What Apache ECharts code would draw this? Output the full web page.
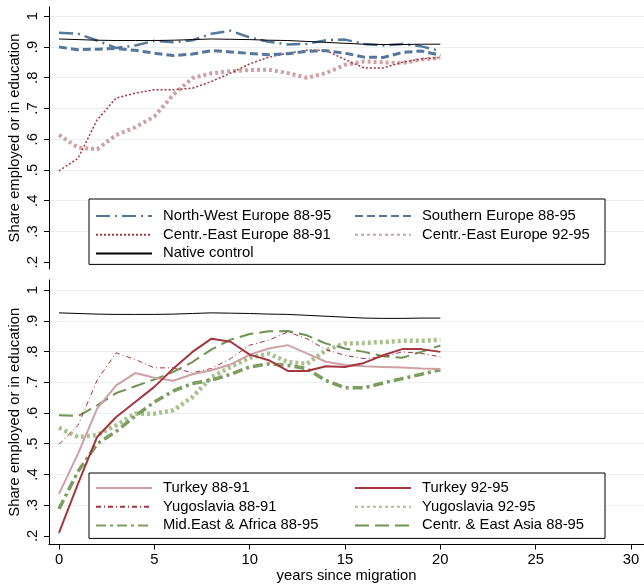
<!DOCTYPE html>
<html>
<head>
<meta charset="utf-8">
<script src="https://cdn.jsdelivr.net/npm/echarts@6/dist/echarts.min.js"></script>
<style>
html,body{margin:0;padding:0;background:#fff;}
#chart{width:644px;height:584px;}
</style>
</head>
<body>
<div id="chart"></div>
<script>
// ---------- data ----------
const years = [0,1,2,3,4,5,6,7,8,9,10,11,12,13,14,15,16,17,18,19,20];

// top panel
const nwEurope   = [.946,.943,.921,.897,.905,.920,.915,.922,.943,.953,.931,.917,.908,.910,.922,.924,.910,.905,.910,.902,.887];
const southEurope= [.900,.891,.893,.895,.889,.880,.872,.877,.888,.884,.879,.875,.878,.886,.888,.880,.867,.866,.882,.887,.873];
const ceEurope8891=[.497,.538,.663,.734,.750,.761,.761,.766,.788,.815,.845,.867,.880,.889,.889,.859,.832,.832,.850,.861,.866];
const ceEurope9295=[.614,.573,.567,.614,.639,.674,.745,.799,.815,.821,.825,.826,.815,.800,.815,.842,.853,.850,.848,.859,.864];
const nativeControl=[.926,.924,.922,.921,.921,.921,.922,.924,.926,.925,.924,.922,.921,.918,.915,.912,.909,.908,.908,.909,.909];

// bottom panel
const turkey8891 = [.337,.468,.614,.690,.730,.715,.705,.726,.739,.758,.790,.810,.821,.794,.767,.756,.752,.750,.748,.745,.743];
const turkey9295 = [.210,.370,.522,.587,.636,.685,.745,.799,.842,.832,.790,.772,.737,.737,.752,.750,.763,.788,.808,.808,.799];
const yugo8891   = [.498,.560,.707,.796,.774,.747,.747,.731,.745,.777,.821,.837,.864,.842,.806,.788,.777,.783,.799,.794,.783];
const yugo9295   = [.552,.522,.528,.560,.598,.598,.609,.652,.717,.750,.780,.793,.766,.760,.804,.826,.828,.831,.835,.835,.838];
const midEastAfrica=[.288,.410,.500,.540,.590,.636,.672,.696,.707,.726,.750,.760,.755,.744,.706,.682,.682,.698,.712,.726,.741];
const ceEastAsia = [.593,.590,.625,.665,.687,.709,.734,.766,.807,.839,.857,.866,.867,.853,.826,.810,.799,.785,.780,.799,.820];

// ticks
const xTicks = [0,5,10,15,20,25,30];
const yTicks = [0.2,0.3,0.4,0.5,0.6,0.7,0.8,0.9,1];
const yGridVals = [0.3,0.4,0.5,0.6,0.7,0.8,0.9,1];

// ---------- chart ----------
const FONT = 'Liberation Sans, Arial, sans-serif';
const FS = 14.8;
const blue = '#55779b', darkRed = '#a3363e', pink = '#cfa0a4', lightGreen = '#a9c18e', green = '#7c9c60', green2 = '#6f9452';

const pairs = arr => years.map((x,i)=>[x, arr[i]]);
function mk(name, arr, gi, color, width, type){
  return {
    name, type:'line', data: pairs(arr),
    xAxisIndex: gi, yAxisIndex: gi*2,
    symbol:'none', showSymbol:false, animation:false,
    lineStyle:{color, width, type, cap:'butt'},
    itemStyle:{color},
    emphasis:{disabled:true}
  };
}

const yFmt = v => (Math.abs(v-1)<1e-9 ? '1' : v.toFixed(1).replace(/^0/,''));

function mainY(gi, min, max){
  return {
    type:'value', gridIndex: gi, min, max, position:'left',
    axisLine:{show:true, onZero:false, lineStyle:{color:'#000', width:1}},
    axisTick:{show:true, length:5, customValues:yTicks, lineStyle:{color:'#000', width:1}},
    axisLabel:{show:true, customValues:yTicks, rotate:90, margin:9, formatter:yFmt,
      fontSize:FS, fontFamily:FONT, color:'#000'},
    splitLine:{show:false},
    name:'Share employed or in education', nameLocation:'middle', nameRotate:90, nameGap:27,
    nameMoveOverlap:false,
    nameTextStyle:{fontSize:FS, fontFamily:FONT, color:'#000'}
  };
}
function gridY(gi, min, max){
  return {
    type:'value', gridIndex: gi, min, max, position:'right',
    axisLine:{show:false, onZero:false},
    axisTick:{show:false, customValues:yGridVals},
    axisLabel:{show:false, customValues:yGridVals},
    splitLine:{show:true, lineStyle:{color:'#e8f0f2', width:1}}
  };
}

const legendText = {fontSize:FS, fontFamily:FONT, color:'#000', width:190, lineHeight:16, padding:[0,0,0,6]};
const legendCommon = {
  orient:'vertical', selectedMode:false,
  itemWidth:56, itemHeight:14, itemGap:2.7,
  itemStyle:{opacity:0, borderWidth:0},
  textStyle: legendText
};
function legendBox(top, padTop, data){
  return Object.assign({}, legendCommon, {
    left:89, top, data,
    padding:[padTop,252,12-padTop,6], borderColor:'#000', borderWidth:1, backgroundColor:'#fff'
  });
}
function legendCol(top, padTop, data){
  return Object.assign({}, legendCommon, {
    left:354, top: top+padTop, data, padding:0
  });
}

const option = {
  backgroundColor:'#fff',
  animation:false,
  grid:[
    {left:49, right:0, top:7, height:262, outerBoundsMode:'none', containLabel:false},
    {left:49, right:0, top:280, height:264.5, outerBoundsMode:'none', containLabel:false}
  ],
  xAxis:[
    {type:'value', gridIndex:0, min:-0.524, max:30.68, show:false},
    {type:'value', gridIndex:1, min:-0.524, max:30.68,
      axisLine:{show:true, onZero:false, lineStyle:{color:'#000', width:1}},
      axisTick:{show:true, length:5, customValues:xTicks, lineStyle:{color:'#000'}},
      axisLabel:{show:true, customValues:xTicks, margin:8, fontSize:FS, fontFamily:FONT, color:'#000'},
      splitLine:{show:false},
      name:'years since migration', nameLocation:'middle', nameGap:24, nameMoveOverlap:false,
      nameTextStyle:{fontSize:FS, fontFamily:FONT, color:'#000'}
    }
  ],
  yAxis:[
    mainY(0, 0.178, 1.03), gridY(0, 0.178, 1.03),
    mainY(1, 0.172, 1.033), gridY(1, 0.172, 1.033)
  ],
  legend:[
    legendBox(199, 9, ['North-West Europe 88-95','Centr.-East Europe 88-91','Native control']),
    legendCol(199, 9, ['Southern Europe 88-95','Centr.-East Europe 92-95']),
    legendBox(473, 7, ['Turkey 88-91','Yugoslavia 88-91','Mid.East & Africa 88-95']),
    legendCol(473, 7, ['Turkey 92-95','Yugoslavia 92-95','Centr. & East Asia 88-95'])
  ],
  series:[
    mk('Centr.-East Europe 92-95', ceEurope9295, 0, pink, 4, [3,3]),
    mk('Centr.-East Europe 88-91', ceEurope8891, 0, darkRed, 1.5, [2,2]),
    mk('Southern Europe 88-95', southEurope, 0, blue, 3, [8,4]),
    mk('North-West Europe 88-95', nwEurope, 0, blue, 2.5, [14,5,2,5]),
    mk('Native control', nativeControl, 0, '#000', 1, 'solid'),

    mk('Native control', nativeControl, 1, '#000', 1, 'solid'),
    mk('Yugoslavia 92-95', yugo9295, 1, lightGreen, 4.5, [3,3]),
    mk('Mid.East & Africa 88-95', midEastAfrica, 1, green, 3.5, [10,4,3,4]),
    mk('Centr. & East Asia 88-95', ceEastAsia, 1, green2, 2, [14,6]),
    mk('Yugoslavia 88-91', yugo8891, 1, darkRed, 1, [5,3,1,3]),
    mk('Turkey 88-91', turkey8891, 1, pink, 2, 'solid'),
    mk('Turkey 92-95', turkey9295, 1, darkRed, 2, 'solid')
  ]
};

const chart = echarts.init(document.getElementById('chart'), null, {renderer:'canvas'});
chart.setOption(option);
</script>
</body>
</html>
